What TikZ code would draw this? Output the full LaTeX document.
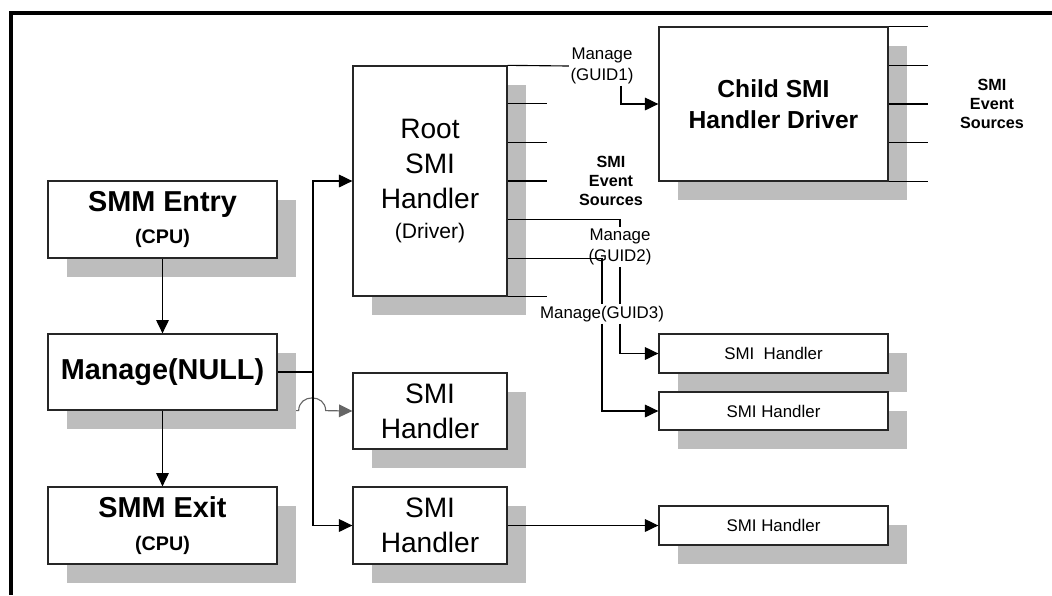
\documentclass[tikz,border=0pt]{standalone}
\usepackage{fontspec}
\setmainfont{Liberation Sans}
\usetikzlibrary{shadows}
\usetikzlibrary{arrows.meta}
\usetikzlibrary{calc}
\pgfdeclarelayer{fondo}
\pgfsetlayers{fondo,main}
\tikzstyle{caja}=[draw=black!85,fill=white,line width=0.9pt,inner sep=0pt,align=center,drop shadow={shadow xshift=0.475cm,shadow yshift=-0.475cm,fill=black!26,opacity=1}]
\tikzstyle{negrita}=[caja,font=\fontsize{20.5}{23}\selectfont\bfseries]
\tikzstyle{grande}=[caja,font=\fontsize{20}{25}\selectfont]
\tikzstyle{pequena}=[caja,font=\fontsize{12}{14}\selectfont]
\tikzstyle{etiqueta}=[inner sep=1pt,align=center,font=\fontsize{12}{15}\selectfont]
\tikzstyle{fuentes}=[inner sep=0pt,align=center,font=\fontsize{11.5}{13.5}\selectfont\bfseries]
\tikzstyle{line}=[draw,line width=0.8pt,-{Triangle[length=9.5pt,width=9pt]}]
\tikzstyle{stub}=[draw,line width=0.8pt]

\begin{document}
\begin{tikzpicture}[x=0.025cm,y=-0.025cm]
		\useasboundingbox (0,0) rectangle (1052,595);
		\draw[line width=2.2pt] (1052,13) -- (11,13) -- (11,595);
		% cajas
			\node [negrita,minimum width=5.725cm,minimum height=1.925cm] (entrada) at (162.5,219.5) {SMM Entry\\{\fontsize{14}{14}\selectfont (CPU)}};
			\node [negrita,minimum width=5.725cm,minimum height=1.9cm] (gestion) at (162.5,372) {Manage(NULL)};
			\node [negrita,minimum width=5.725cm,minimum height=1.925cm] (salida) at (162.5,525.5) {SMM Exit\\{\fontsize{14}{14}\selectfont (CPU)}};
			\node [grande,minimum width=3.85cm,minimum height=5.75cm] (raiz) at (430,181) {Root\\SMI\\Handler\\[-4pt]{\fontsize{15}{15}\selectfont (Driver)}};
			\node [caja,font=\fontsize{17.5}{22}\selectfont\bfseries,minimum width=5.725cm,minimum height=3.85cm] (hijo) at (773.5,104) {Child SMI\\Handler Driver};
			\node [grande,minimum width=3.85cm,minimum height=1.9cm] (manejA) at (430,411) {SMI\\Handler};
			\node [grande,minimum width=3.85cm,minimum height=1.925cm] (manejB) at (430,525.5) {SMI\\Handler};
			\node [pequena,minimum width=5.725cm,minimum height=0.975cm] (chico1) at (773.5,353.5) {SMI\ \ Handler};
			\node [pequena,minimum width=5.725cm,minimum height=0.95cm] (chico2) at (773.5,411) {SMI Handler};
			\node [pequena,minimum width=5.725cm,minimum height=0.975cm] (chico3) at (773.5,525.5) {SMI Handler};
		% etiquetas
			\node [etiqueta] (guid1) at (602,66) {Manage\\(GUID1)};
			\node [etiqueta] (guid2) at (620,247) {Manage\\(GUID2)};
			\node [etiqueta] (guid3) at (602,314) {Manage(GUID3)};
			\node [fuentes] (fuentes1) at (611,181) {SMI\\Event\\Sources};
			\node [fuentes] (fuentes2) at (992,104) {SMI\\Event\\Sources};
			\coordinate (bus) at (313,372);
		% lineas
			\path [style=line] (entrada) -- (gestion);
			\path [style=line] (gestion) -- (salida);
			\path [style=stub] (gestion.east) -- (bus);
			\path [style=line] (bus) |- (raiz.west);
			\path [style=line] (bus) |- (manejB.west);
			\begin{pgfonlayer}{fondo}
				\path [style=line,draw=black!60] (gestion.south east) -- ++(21,0) .. controls +(0,-17) and +(0,-17) .. ++(27,0) -- (manejA.west);
			\end{pgfonlayer}
			\path [style=line] (manejB.east) -- (chico3.west);
			\foreach \k in {1,2,3,6}
				\path [style=stub] ($(raiz.north east)!\k/6!(raiz.south east)$) -- ++(39,0);
			\foreach \k in {0,...,4}
				\path [style=stub] ($(hijo.north east)!\k/4!(hijo.south east)$) -- ++(39,0);
			\path [style=stub] (raiz.north east) -- (guid1.west);
			\path [style=line] ([xshift=0.475cm]guid1.south) |- (hijo.west);
			\path [style=stub] ($(raiz.north east)!4/6!(raiz.south east)$) -| (guid2.north);
			\path [style=stub] ($(raiz.north east)!5/6!(raiz.south east)$) -| (guid3.north);
			\path [style=line] (guid3.south) |- (chico2.west);
			\path [style=stub] (guid2.south) -- (guid2.south |- guid3.north);
			\path [style=line] (guid2.south |- guid3.south) |- (chico1.west);
\end{tikzpicture}
\end{document}
